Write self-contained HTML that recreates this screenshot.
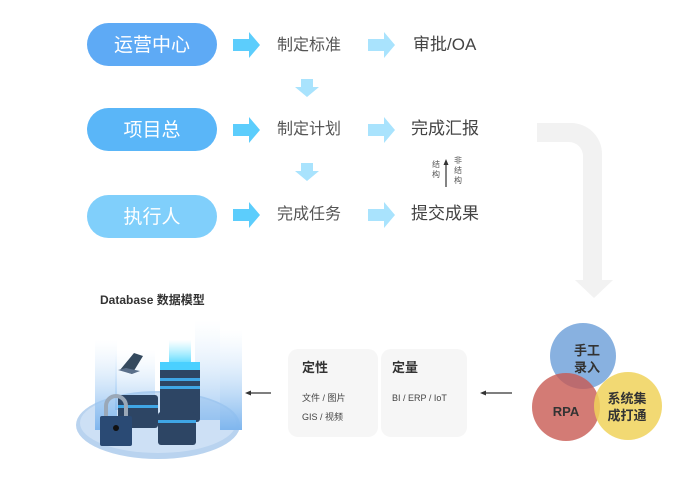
<!DOCTYPE html>
<html><head><meta charset="utf-8"><style>
body{margin:0;width:692px;height:474px;background:#fff;overflow:hidden;font-family:"Liberation Sans","Noto Sans CJK SC",sans-serif}
</style></head><body>
<svg width="692" height="474" viewBox="0 0 692 474" xmlns="http://www.w3.org/2000/svg" font-family="Liberation Sans, Noto Sans CJK SC, sans-serif">
<defs>
<linearGradient id="beam" x1="0" y1="0" x2="0" y2="1"><stop offset="0" stop-color="#cfe6fb" stop-opacity="0"/><stop offset="1" stop-color="#7fb6ee"/></linearGradient>
<linearGradient id="glow" x1="0" y1="0" x2="0" y2="1"><stop offset="0" stop-color="#7fe8ff" stop-opacity="0"/><stop offset="1" stop-color="#4fd6ff"/></linearGradient>
</defs>
<rect x="87" y="23" width="130" height="43" rx="21.5" fill="#5eaaf5"/>
<text x="152" y="51" font-size="19" fill="#fff" text-anchor="middle">运营中心</text>
<rect x="87" y="108" width="130" height="43" rx="21.5" fill="#5ab6f8"/>
<text x="152" y="136" font-size="19" fill="#fff" text-anchor="middle">项目总</text>
<rect x="87" y="195" width="130" height="43" rx="21.5" fill="#80cffb"/>
<text x="152" y="223" font-size="19" fill="#fff" text-anchor="middle">执行人</text>
<g fill="#5ccdfc">
<polygon points="233,39 249,39 249,32 260,45 249,58 249,51 233,51"/>
<polygon points="233,124 249,124 249,117 260,130 249,143 249,136 233,136"/>
<polygon points="233,209 249,209 249,202 260,215 249,228 249,221 233,221"/>
</g>
<g fill="#a9e3fd">
<polygon points="368,39 384,39 384,32 395,45 384,58 384,51 368,51"/>
<polygon points="368,124 384,124 384,117 395,130 384,143 384,136 368,136"/>
<polygon points="368,209 384,209 384,202 395,215 384,228 384,221 368,221"/>
<polygon points="301,79 313,79 313,87 319,87 307,97 295,87 301,87"/>
<polygon points="301,163 313,163 313,171 319,171 307,181 295,171 301,171"/>
</g>
<g font-size="16" fill="#555">
<text x="277" y="50">制定标准</text>
<text x="277" y="134">制定计划</text>
<text x="277" y="219">完成任务</text>
</g>
<g font-size="17" fill="#444">
<text x="413" y="50">审批/OA</text>
<text x="411" y="134">完成汇报</text>
<text x="411" y="219">提交成果</text>
</g>
<g font-size="8" fill="#555">
<text x="432" y="167">结</text><text x="432" y="177">构</text>
<text x="454" y="163">非</text><text x="454" y="173">结</text><text x="454" y="183">构</text>
</g>
<line x1="446" y1="187" x2="446" y2="163" stroke="#333" stroke-width="1.2"/>
<polygon points="443.5,165 446,159 448.5,165" fill="#333"/>
<path d="M537 123 H571 A31 31 0 0 1 602 154 V280 H613 L594 298 L575 280 H583 V156 A14 14 0 0 0 569 142 H537 Z" fill="#f2f2f2"/>
<text x="100" y="304" font-size="12" font-weight="bold" fill="#333">Database 数据模型</text>
<ellipse cx="158" cy="425" rx="82" ry="34" fill="#b9d3ef"/>
<ellipse cx="158" cy="423" rx="78" ry="30" fill="#cde0f5"/>
<rect x="95" y="340" width="22" height="90" fill="url(#beam)"/>
<rect x="115" y="350" width="40" height="60" fill="url(#beam)" opacity=".6"/>
<rect x="195" y="320" width="25" height="100" fill="url(#beam)" opacity=".7"/>
<rect x="220" y="330" width="22" height="100" fill="url(#beam)"/>
<rect x="169" y="340" width="22" height="25" fill="url(#glow)"/>
<polygon points="120,370 134,353 143,356 132,374" fill="#34495e"/>
<polygon points="118,370 132,374 140,371 126,368" fill="#5a6f8a"/>
<rect x="160" y="362" width="40" height="60" rx="3" fill="#2d4564"/>
<rect x="160" y="362" width="40" height="8" fill="#4ad0ff"/>
<rect x="160" y="378" width="40" height="3" fill="#3fa6e6"/>
<rect x="160" y="386" width="40" height="3" fill="#3fa6e6"/>
<rect x="118" y="395" width="40" height="33" rx="3" fill="#2d4564"/>
<rect x="118" y="405" width="40" height="3" fill="#3fa6e6"/>
<rect x="158" y="412" width="38" height="33" rx="3" fill="#2d4564"/>
<rect x="158" y="420" width="38" height="3" fill="#3fa6e6"/>
<path d="M106 418 V406 A10 10 0 0 1 126 406 V418" fill="none" stroke="#9aa8b8" stroke-width="4"/>
<rect x="100" y="416" width="32" height="30" rx="2" fill="#2a4a74"/>
<circle cx="116" cy="428" r="3" fill="#111"/>
<line x1="250" y1="393" x2="271" y2="393" stroke="#333" stroke-width="1.2"/>
<polygon points="245,393 251,390.5 251,395.5" fill="#333"/>
<line x1="485" y1="393" x2="512" y2="393" stroke="#333" stroke-width="1.2"/>
<polygon points="480,393 486,390.5 486,395.5" fill="#333"/>
<rect x="288" y="349" width="90" height="88" rx="10" fill="#f6f6f6"/>
<rect x="381" y="349" width="86" height="88" rx="10" fill="#f6f6f6"/>
<text x="302" y="372" font-size="13" font-weight="bold" fill="#333">定性</text>
<text x="392" y="372" font-size="13" font-weight="bold" fill="#333">定量</text>
<text x="302" y="401" font-size="9" fill="#444">文件 / 图片</text>
<text x="302" y="420" font-size="9" fill="#444">GIS / 视频</text>
<text x="392" y="401" font-size="9" fill="#444">BI / ERP / IoT</text>
<circle cx="583" cy="356" r="33" fill="#6a9ed8" opacity=".8"/>
<circle cx="566" cy="407" r="34" fill="#c85a52" opacity=".8"/>
<circle cx="628" cy="406" r="34" fill="#f0d25a" opacity=".85"/>
<g font-size="13" fill="#333" text-anchor="middle" font-weight="600">
<text x="587" y="355">手工</text><text x="587" y="372">录入</text>
<text x="566" y="416">RPA</text>
<text x="627" y="403">系统集</text><text x="627" y="420">成打通</text>
</g>
</svg>
</body></html>
